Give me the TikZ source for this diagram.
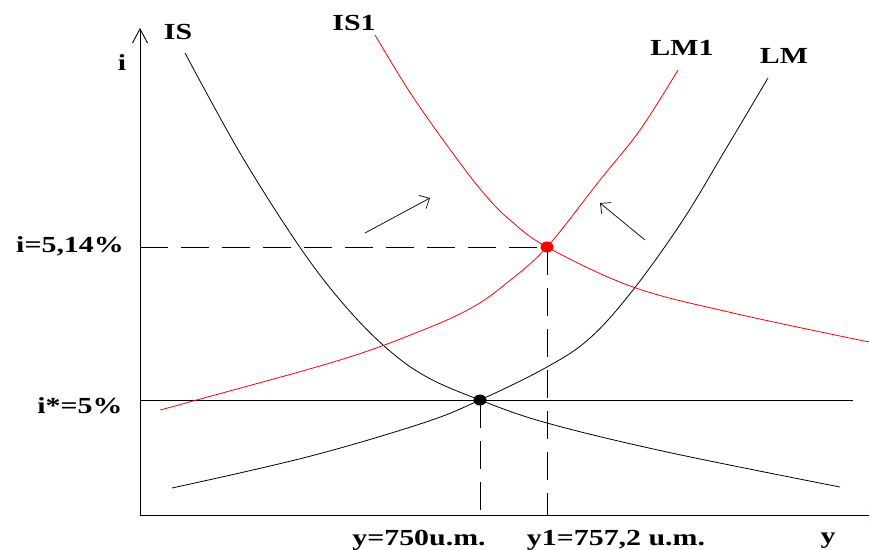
\documentclass[tikz,border=0pt]{standalone}
\usepackage{fontspec}
\setmainfont{Liberation Serif}
\usetikzlibrary{arrows.meta, shapes.geometric}

\begin{document}
\begin{tikzpicture}[x=1pt, y=-1pt,
      lbl/.style={font=\bfseries\fontsize{23}{26}\selectfont,
                  inner sep=0pt, anchor=base, xscale=1.3},
      axis/.style={line width=0.9pt},
      curve/.style={line width=0.8pt},
      guide/.style={line width=0.9pt, dash pattern=on 28pt off 13pt},
      eq/.style={ellipse, fill, inner sep=0pt, minimum width=13pt, minimum height=11pt},
      shiftarr/.style={-{Straight Barb[length=8pt,width=15pt]}, line width=0.7pt}
    ]
    \clip (0,0) rectangle (869,549);
    \coordinate (o) at (140,515);

    % Achsen
    \draw[axis, -{Straight Barb[length=14pt,width=15pt]}] (o) -- (140,28);
    \draw[axis, -{Straight Barb[length=14pt,width=15pt]}] (o) -- (884,515);

    % Gleichgewichte
    \node[eq] (e0) at (480,400) {};
    \node[eq, red] (e1) at (547,247) {};

    % Hilfslinien
    \draw[axis] (e0.center -| o) -- (853,400);
    \draw[guide] (e1.center -| o) -- (e1.center);
    \draw[guide] (e0.center) -- (e0.center |- o);
    \draw[guide] (e1.center) -- (e1.center |- o);

    % Kurven
    \draw[curve] plot[smooth, tension=0.6] coordinates {(185,53) (240,153) (297,243)
      (340,300) (383,345) (425,376) (480,400) (547,423) (667,452) (840,487)};
    \draw[curve] plot[smooth, tension=0.6] coordinates {(172,488) (307,457) (423,423)
      (480,400) (547,367) (590,338) (633,290) (683,220) (727,147) (768,78)};
    \draw[curve, red] plot[smooth, tension=0.6] coordinates {(375,35) (413,97) (460,163)
      (487,197) (510,220) (547,247) (633,287) (733,313) (869,342)};
    \draw[curve, red] plot[smooth, tension=0.6] coordinates {(160,410) (193,401) (340,360)
      (423,330) (473,307) (508,282) (547,247) (600,180) (640,130) (678,70)};

    % Verschiebungen
    \draw[shiftarr] (365,233) -- (430,198);
    \draw[shiftarr] (645,240) -- (600,203);

    % Beschriftungen
    \node[lbl] (ilbl) at (122,70) {i};
    \node[lbl] (islbl) at (178,39) {IS};
    \node[lbl] (is1lbl) at (354,30) {IS1};
    \node[lbl] (lm1lbl) at (682,55) {LM1};
    \node[lbl] (lmlbl) at (784,63) {LM};
    \node[lbl] (i1lbl) at (70,252) {i=5,14\%};
    \node[lbl] (i0lbl) at (80,413) {i*=5\%};
    \node[lbl] (y0lbl) at (419,545) {y=750u.m.};
    \node[lbl] (y1lbl) at (616,545) {y1=757,2 u.m.};
    \node[lbl] (ylbl) at (828,543) {y};
\end{tikzpicture}
\end{document}
